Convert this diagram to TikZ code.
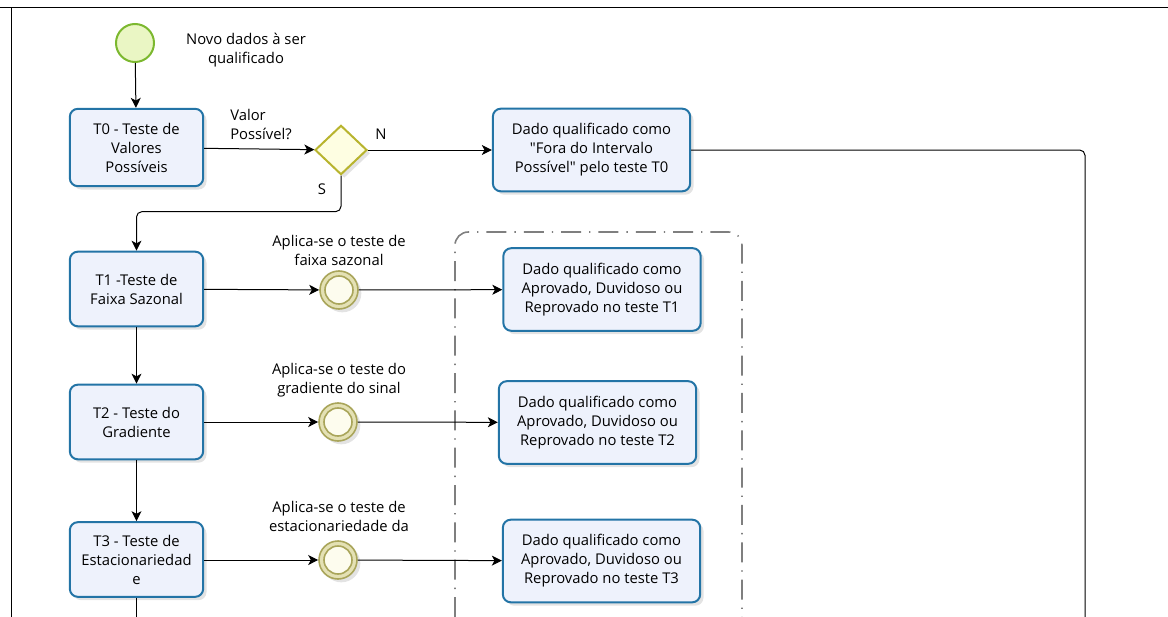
\documentclass[tikz,border=0pt]{standalone}
\usepackage{fontspec}
\setmainfont{Open Sans}[Ligatures=TeXOff]
\usetikzlibrary{arrows.meta,calc,positioning,shapes.geometric,shadows}
\definecolor{taskline}{HTML}{2374A6}
\definecolor{taskfill}{HTML}{EEF2FC}
\definecolor{startline}{HTML}{7CB82F}
\definecolor{startfill}{HTML}{EAF6C4}
\definecolor{gateline}{HTML}{B8B42E}
\definecolor{gatefill}{HTML}{FEFEE2}
\definecolor{eventline}{HTML}{A9A55A}
\definecolor{eventring}{HTML}{E4E1B4}
\definecolor{eventfill}{HTML}{FDFCEE}
\definecolor{groupline}{HTML}{7F7F7F}

\begin{document}
\begin{tikzpicture}[x=0.75pt,y=-0.75pt,>={Stealth[length=7.5pt,width=7.5pt,inset=2pt]},
	font=\fontsize{11.1}{14.25}\selectfont]
		\tikzstyle{soft shadow}=[drop shadow={opacity=0.22,shadow xshift=2.5pt,shadow yshift=-2.5pt}]
		\tikzstyle{task}=[draw=taskline,line width=1.5pt,fill=taskfill,rounded corners=6pt,align=center,
			minimum width=100pt,minimum height=56pt,inner sep=2pt,soft shadow]
		\tikzstyle{result}=[task,minimum width=148pt,minimum height=62pt]
		\tikzstyle{start event}=[circle,draw=startline,line width=1.5pt,fill=startfill,minimum size=28.5pt,inner sep=0pt]
		\tikzstyle{gateway}=[diamond,draw=gateline,line width=1.5pt,fill=gatefill,minimum width=39pt,minimum height=37pt,inner sep=0pt,soft shadow]
		\tikzstyle{event}=[circle,draw=eventline,line width=1.2pt,fill=eventring,minimum size=28.5pt,inner sep=0pt,soft shadow]
		\tikzstyle{event inner}=[circle,draw=eventline,line width=1.2pt,fill=eventfill,minimum size=21pt,inner sep=0pt]
		\tikzstyle{flow}=[->,line width=0.75pt]
		\tikzstyle{label}=[align=center,inner sep=0pt]

		\useasboundingbox (0,0) rectangle (1168,617);

		%frame
		\draw[line width=0.75pt] (0,8) -- (1168,8);
		\draw[line width=0.75pt] (11,8) -- (11,617);

		%group
		\draw[groupline,line width=1.2pt,rounded corners=10pt,dash pattern=on 15pt off 6pt on 1pt off 6pt]
			(455,617) -- (455,232) -- (742,232) -- (742,617);

		%start
		\node[start event] (start) at (135,43) {};
		\node[label] (startlbl) at (246,50) {Novo dados à ser\\qualificado};

		%tasks
		\node[task,minimum height=58pt] (t0) at (136.5,147.5) {T0 - Teste de\\Valores\\Possíveis};
		\node[task] (t1) at (136.5,289) {T1 -Teste de\\Faixa Sazonal};
		\node[task] (t2) at (136.5,422) {T2 - Teste do\\Gradiente};
		\node[task] (t3) at (136.5,559.5) {T3 - Teste de\\Estacionariedad\\e};

		%gateway
		\node[gateway] (gw) at (341,150) {};
		\node[label,align=left,anchor=west] (gwlbl) at (230,124) {Valor\\Possível?};
		\node[label] (nlbl) at (381,134) {N};
		\node[label] (slbl) at (322,189) {S};

		%intermediate events
		\node[event] (e1) at (339,290) {};
		\node[event inner] (e1in) at (e1) {};
		\node[event] (e2) at (338,422) {};
		\node[event inner] (e2in) at (e2) {};
		\node[event] (e3) at (338,560) {};
		\node[event inner] (e3in) at (e3) {};
		\node[label] (e1lbl) at (339,250.5) {Aplica-se o teste de\\faixa sazonal};
		\node[label] (e2lbl) at (339,380.5) {Aplica-se o teste do\\gradiente do sinal};
		\node[label] (e3lbl) at (339,516.5) {Aplica-se o teste de\\estacionariedade da};

		%results
		\node[result] (f0) at (591.5,150) {Dado qualificado como\\"Fora do Intervalo\\Possível" pelo teste T0};
		\node[result] (r1) at (602,289.5) {Dado qualificado como\\Aprovado, Duvidoso ou\\Reprovado no teste T1};
		\node[result] (r2) at (597.5,422.5) {Dado qualificado como\\Aprovado, Duvidoso ou\\Reprovado no teste T2};
		\node[result] (r3) at (601.5,561) {Dado qualificado como\\Aprovado, Duvidoso ou\\Reprovado no teste T3};

		%loose ends
		\coordinate (endA) at (1085,617);
		\coordinate (endB) at (136.5,617);

		%flows
		\draw[flow] (start) -- (t0);
		\draw[flow] (t0) -- (gw);
		\draw[flow] (gw) -- (f0);
		\draw[flow,rounded corners=4pt] (gw.south) -- ++(0,36) -| (t1.north);
		\draw[line width=0.75pt,rounded corners=4pt] (f0.east) -| (endA);
		\draw[flow] (t1) -- (t2);
		\draw[flow] (t2) -- (t3);
		\draw[line width=0.75pt] (t3) -- (endB);
		\draw[flow] (t1) -- (e1);
		\draw[flow] (e1) -- (r1);
		\draw[flow] (t2) -- (e2);
		\draw[flow] (e2) -- (r2);
		\draw[flow] (t3.east |- e3) -- (e3);
		\draw[flow] (e3) -- (r3);
	\end{tikzpicture}
\end{document}
